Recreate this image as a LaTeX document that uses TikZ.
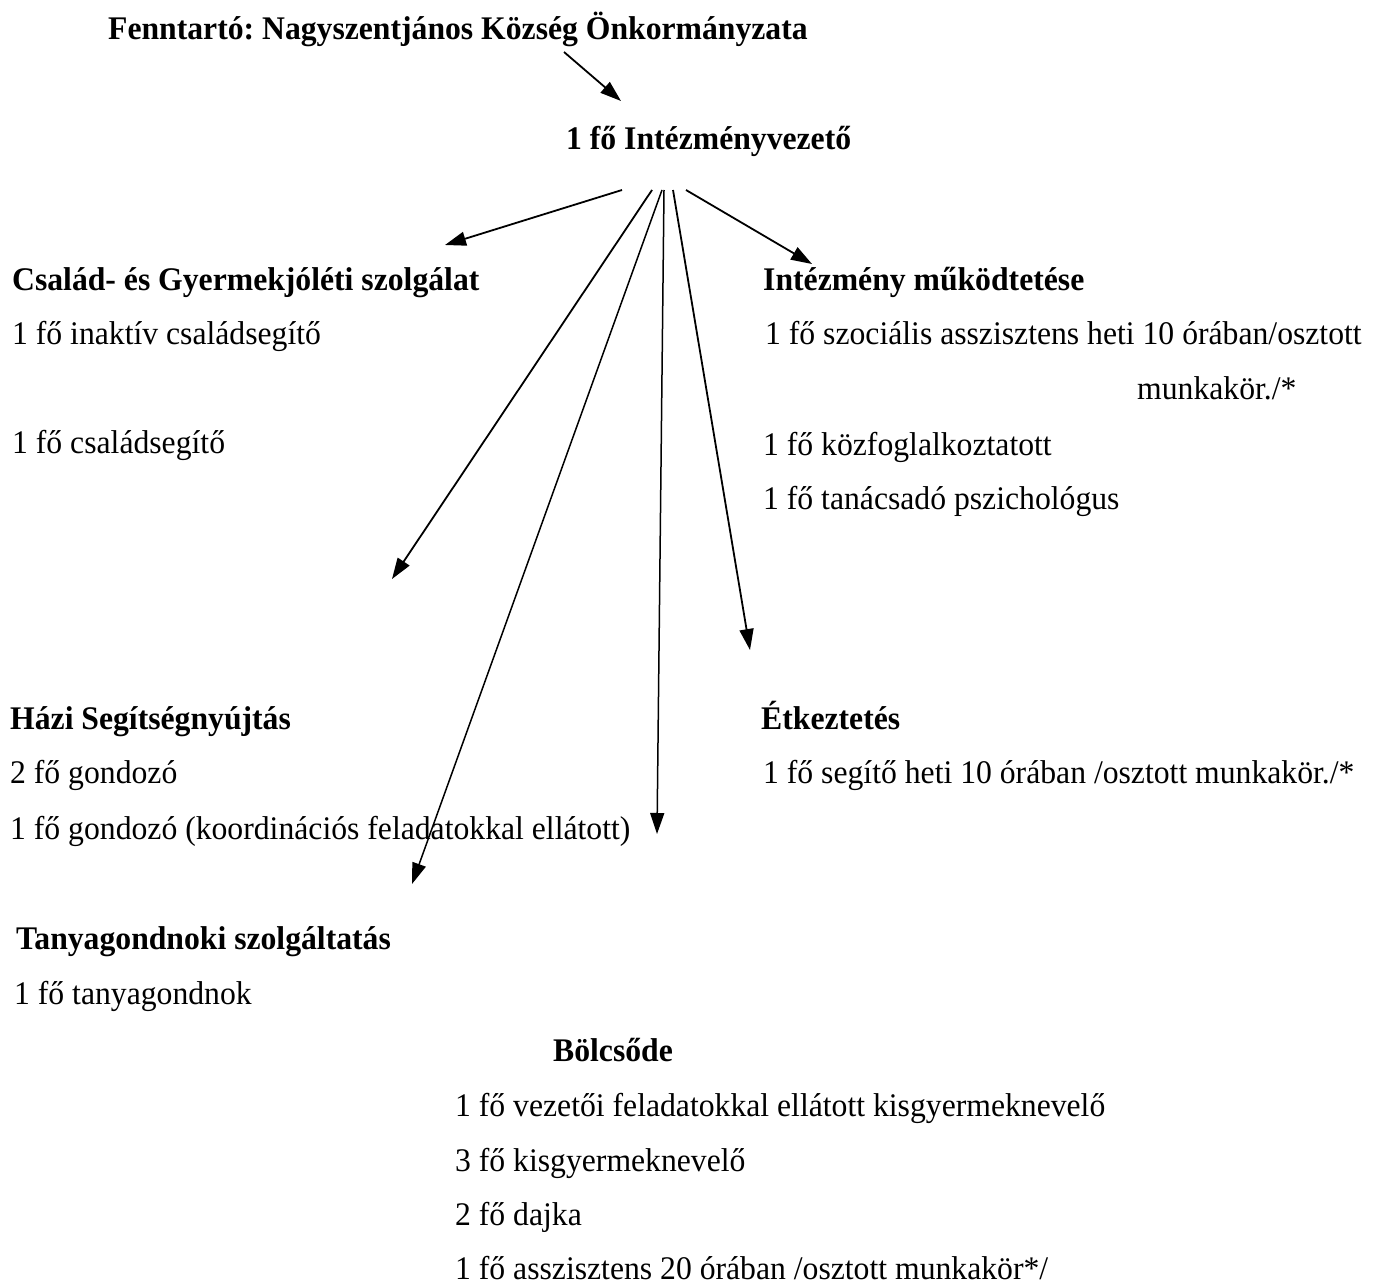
\documentclass[tikz,border=0pt]{standalone}
\usepackage{fontspec}
\setmainfont{Liberation Serif}[FakeStretch=0.96]
\frenchspacing
\usetikzlibrary{arrows.meta}
\tikzset{
  txt/.style={font=\fontsize{33}{38}\selectfont, anchor=base west, inner sep=0pt},
  btxt/.style={font=\fontsize{33}{38}\selectfont\bfseries, anchor=base west, inner sep=0pt},
  arr/.style={-{Triangle[length=21pt,width=14pt]}, line width=1.8pt},
}
\begin{document}
\begin{tikzpicture}[x=1pt,y=-1pt]
\useasboundingbox[fill=white] (0,0) rectangle (1375,1284);
% texts
\node[btxt] (fenn) at (108,40) {Fenntartó: Nagyszentjános Község Önkormányzata};
\node[btxt] (vez) at (566,150) {1 fő Intézményvezető};
\node[btxt] (csal) at (12,290) {Család- és Gyermekjóléti szolgálat};
\node[txt] (c1) at (12,344) {1 fő inaktív családsegítő};
\node[txt] (c2) at (12,453) {1 fő családsegítő};
\node[btxt] (int) at (763,290) {Intézmény működtetése};
\node[txt] (i1) at (765,344) {1 fő szociális asszisztens heti 10 órában/osztott};
\node[txt] (i1b) at (1137,399) {munkakör./*};
\node[txt] (i2) at (763,455) {1 fő közfoglalkoztatott};
\node[txt] (i3) at (763,509) {1 fő tanácsadó pszichológus};
\node[btxt] (hazi) at (10,729) {Házi Segítségnyújtás};
\node[txt] (h1) at (10,783) {2 fő gondozó};
\node[txt] (h2) at (10,839) {1 fő gondozó (koordinációs feladatokkal ellátott)};
\node[btxt] (etk) at (761,729) {Étkeztetés};
\node[txt] (e1) at (763,783) {1 fő segítő heti 10 órában /osztott munkakör./*};
\node[btxt] (tany) at (16,949) {Tanyagondnoki szolgáltatás};
\node[txt] (t1) at (14,1004) {1 fő tanyagondnok};
\node[btxt] (bol) at (553,1061) {Bölcsőde};
\node[txt] (b1) at (455,1116) {1 fő vezetői feladatokkal ellátott kisgyermeknevelő};
\node[txt] (b2) at (455,1171) {3 fő kisgyermeknevelő};
\node[txt] (b3) at (455,1225) {2 fő dajka};
\node[txt] (b4) at (455,1279) {1 fő asszisztens 20 órában /osztott munkakör*/};
% connector points
\coordinate (a0s) at (564,52);
\coordinate (a0e) at (621,101);
\coordinate (s1) at (622,190);
\coordinate (s2) at (652,190);
\coordinate (s3) at (662,190);
\coordinate (s4) at (664,190);
\coordinate (s5) at (673,190);
\coordinate (s6) at (686,190);
\coordinate (t1e) at (445,245);
\coordinate (t2e) at (392,579);
\coordinate (t3e) at (412,884);
\coordinate (t4e) at (657,834);
\coordinate (t5e) at (750,650);
\coordinate (t6e) at (812,264);
% arrows
\draw[arr] (a0s) -- (a0e);
\draw[arr] (s1) -- (t1e);
\draw[arr] (s2) -- (t2e);
\draw[arr, line width=1.5pt] (s3) -- (t3e);
\draw[arr, line width=1.5pt] (s4) -- (t4e);
\draw[arr] (s5) -- (t5e);
\draw[arr] (s6) -- (t6e);
\end{tikzpicture}
\end{document}
